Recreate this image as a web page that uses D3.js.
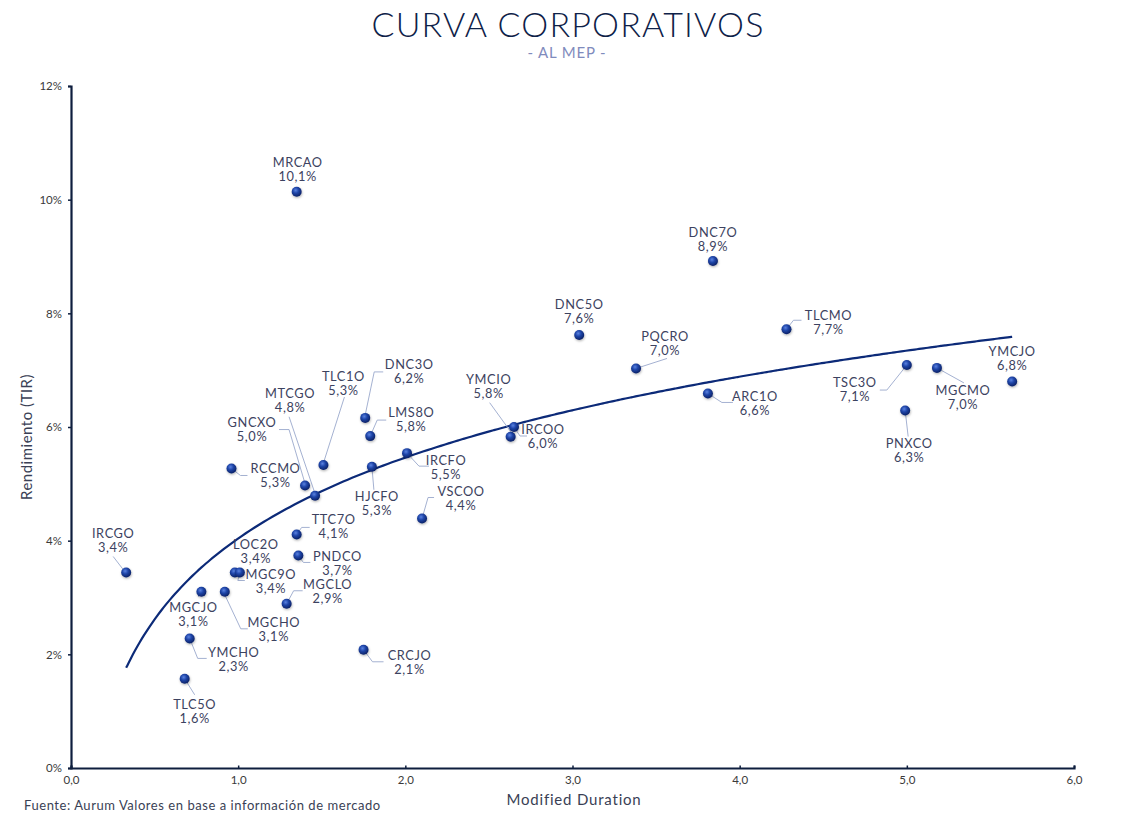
<!DOCTYPE html>
<html>
<head>
<meta charset="utf-8">
<script src="https://cdn.jsdelivr.net/npm/d3@7/dist/d3.min.js"></script>
<style>
  html, body { margin: 0; padding: 0; background: #ffffff; }
  svg { display: block; font-family: "Lato", "Noto Sans", sans-serif; }
</style>
</head>
<body>
<svg id="chart" width="1136" height="824"></svg>
<script>
// ---------- DATA ----------
const bonds = ["MRCAO","DNC7O","DNC5O","PQCRO","ARC1O","YMCIO","IRCOO","TLCMO","TSC3O","MGCMO","YMCJO","PNXCO",
  "IRCGO","LOC2O","MGC9O","MGCJO","MGCHO","TTC7O","PNDCO","MGCLO","YMCHO","TLC5O",
  "CRCJO","VSCOO","DNC3O","LMS8O","IRCFO","HJCFO","TLC1O","RCCMO","GNCXO","MTCGO"];
const duration = [1.35,3.84,3.04,3.38,3.81,2.63,2.65,4.28,5.00,5.18,5.63,4.99,
  0.33,0.98,1.01,0.78,0.92,1.35,1.36,1.29,0.71,0.68,
  1.75,2.10,1.76,1.79,2.01,1.80,1.51,0.96,1.40,1.46];
const yieldTIR = [10.14,8.92,7.62,7.03,6.59,5.83,6.00,7.72,7.09,7.04,6.80,6.29,
  3.44,3.44,3.44,3.10,3.10,4.11,3.74,2.89,2.28,1.57,
  2.08,4.39,6.16,5.84,5.54,5.30,5.33,5.27,4.97,4.79];
const xTicks = [0,1,2,3,4,5,6];
const yTicks = [0,2,4,6,8,10,12];

// ---------- LABEL LAYOUT (pixel offsets from each dot) ----------
const labelLayout = {
  MRCAO:{d:[1,-29]}, DNC7O:{d:[0,-29]}, DNC5O:{d:[0,-30]},
  PQCRO:{d:[29,-32], l:[[0,0],[31,-10]]},
  ARC1O:{d:[47,3], l:[[0,0],[14,9],[25,9]]},
  YMCIO:{d:[-22,-57], l:[[0,-5],[-21,-34]]},
  IRCOO:{d:[29,3], l:[[0,0],[6,9],[13,9]]},
  TLCMO:{d:[42,-14], l:[[0,0],[7,-9],[15,-9]]},
  TSC3O:{d:[-52,17], l:[[0,0],[-20,25],[-27,25]]},
  MGCMO:{d:[26,23], l:[[0,0],[27,15]]},
  YMCJO:{d:[0,-30]},
  PNXCO:{d:[4,33], l:[[0,0],[3,26]]},
  IRCGO:{d:[-13,-39], l:[[-3,-3],[-13,-16]]},
  LOC2O:{d:[21,-28]},
  MGC9O:{d:[31,2], l:[[0,0],[-2,8],[5,8]]},
  MGCJO:{d:[-8,16], l:[[0,0],[-3,5]]},
  MGCHO:{d:[49,31], l:[[0,3],[16,37],[23,37]]},
  TTC7O:{d:[37,-15], l:[[0,0],[5,-7],[13,-7]]},
  PNDCO:{d:[39,1], l:[[0,0],[5,7],[12,7]]},
  MGCLO:{d:[41,-19], l:[[0,0],[7,-13],[16,-13]]},
  YMCHO:{d:[44,14], l:[[0,0],[8,20],[17,20]]},
  TLC5O:{d:[10,26], l:[[0,0],[10,16]]},
  CRCJO:{d:[46,6], l:[[0,0],[9,12],[20,12]]},
  VSCOO:{d:[39,-27], l:[[0,0],[6,-21],[12,-21]]},
  DNC3O:{d:[44,-53], l:[[0,-3],[9,-46],[18,-46]]},
  LMS8O:{d:[41,-24], l:[[0,0],[7,-16],[16,-16]]},
  IRCFO:{d:[39,7], l:[[0,0],[12,13],[22,13]]},
  HJCFO:{d:[5,30], l:[[0,0],[2,23]]},
  TLC1O:{d:[20,-89], l:[[0,-2],[21,-68]]},
  RCCMO:{d:[44,0], l:[[0,0],[9,7],[16,7]]},
  GNCXO:{d:[-53,-63], l:[[0,-2],[-16,-56],[-26,-56]]},
  MTCGO:{d:[-25,-102], l:[[0,-2],[-26,-79]]}
};

// ---------- CHART ----------
const svg = d3.select("#chart");
const pLeft = 71, pRight = 1074, pTop = 86, pBottom = 768;
const x = d3.scaleLinear().domain([0, 6]).range([pLeft, pRight]);
const y = d3.scaleLinear().domain([0, 12]).range([pBottom, pTop]);

const points = bonds.map((b, i) => ({ name: b, x: duration[i], y: yieldTIR[i] }));

// gradient for dots
const defs = svg.append("defs");
const grad = defs.append("radialGradient").attr("id", "dotGrad")
  .attr("cx", "40%").attr("cy", "35%").attr("r", "65%");
grad.append("stop").attr("offset", "0%").attr("stop-color", "#5a82e0");
grad.append("stop").attr("offset", "45%").attr("stop-color", "#1f45a8");
grad.append("stop").attr("offset", "100%").attr("stop-color", "#0b2166");
const shadow = defs.append("filter").attr("id", "shadow").attr("x", "-50%").attr("y", "-50%").attr("width", "200%").attr("height", "200%");
shadow.append("feDropShadow").attr("dx", 0.5).attr("dy", 1.2).attr("stdDeviation", 0.9)
  .attr("flood-color", "#000").attr("flood-opacity", 0.3);

// Title
svg.append("text").attr("x", 568).attr("y", 37).attr("text-anchor", "middle")
  .attr("font-size", 34).attr("fill", "#0e2148").attr("letter-spacing", 1.2)
  .attr("font-weight", 300).text("CURVA CORPORATIVOS");
svg.append("text").attr("x", 567).attr("y", 58).attr("text-anchor", "middle")
  .attr("font-size", 15).attr("fill", "#7f8bbd").attr("letter-spacing", 0.8)
  .text("- AL MEP -");

// Axes
const yAxis = d3.axisLeft(y).tickValues(yTicks).tickSize(3).tickFormat(d => d + "%");
const gy = svg.append("g").attr("transform", `translate(${pLeft},0)`).call(yAxis);
gy.select(".domain").attr("stroke", "#0e1e3e").attr("stroke-width", 2.2);
gy.selectAll(".tick line").attr("stroke", "#0e1e3e").attr("stroke-width", 1.5);
gy.selectAll(".tick text").attr("font-size", 11.5).attr("fill", "#3a3a3a")
  .attr("font-family", "Lato, sans-serif").attr("x", -9);

const xAxis = d3.axisBottom(x).tickValues(xTicks).tickSize(-2.5)
  .tickFormat(d => d3.format(".1f")(d).replace(".", ","));
const gx = svg.append("g").attr("transform", `translate(0,${pBottom})`).call(xAxis);
gx.select(".domain").attr("stroke", "#0e1e3e").attr("stroke-width", 2.2);
gx.selectAll(".tick line").attr("stroke", "#0e1e3e").attr("stroke-width", 1.5);
gx.selectAll(".tick text").attr("font-size", 11.5).attr("fill", "#3a3a3a")
  .attr("font-family", "Lato, sans-serif").attr("y", 8);

// Axis titles
svg.append("text").attr("transform", `translate(32,${(pTop + pBottom) / 2 + 10}) rotate(-90)`)
  .attr("text-anchor", "middle").attr("font-size", 15).attr("fill", "#3a3f55")
  .attr("letter-spacing", 0.5).text("Rendimiento (TIR)");
svg.append("text").attr("x", 574).attr("y", 805).attr("text-anchor", "middle")
  .attr("font-size", 15).attr("fill", "#3a3f55").attr("letter-spacing", 0.8).text("Modified Duration");
svg.append("text").attr("x", 24).attr("y", 810)
  .attr("font-size", 13).attr("fill", "#3a3f55").attr("letter-spacing", 0.55)
  .text("Fuente: Aurum Valores en base a información de mercado");

// Logarithmic trend line (least squares on ln(duration))
const lx = duration.map(Math.log);
const mx = d3.mean(lx), my = d3.mean(yieldTIR);
const sxy = d3.sum(lx.map((v, i) => (v - mx) * (yieldTIR[i] - my)));
const sxx = d3.sum(lx.map(v => (v - mx) * (v - mx)));
const b = sxy / sxx, a = my - b * mx;
const [xmin, xmax] = d3.extent(duration);
const trend = d3.range(0, 201).map(i => {
  const xv = xmin + (xmax - xmin) * i / 200;
  return [xv, a + b * Math.log(xv)];
});
svg.append("path").datum(trend)
  .attr("d", d3.line().x(d => x(d[0])).y(d => y(d[1])).curve(d3.curveBasis))
  .attr("fill", "none").attr("stroke", "#0c2a78").attr("stroke-width", 2.2);

// Leader lines
const lg = svg.append("g");
points.forEach(p => {
  const L = labelLayout[p.name];
  if (L && L.l) {
    const cx = x(p.x), cy = y(p.y);
    lg.append("polyline")
      .attr("points", L.l.map(q => [cx + q[0], cy + q[1]].join(",")).join(" "))
      .attr("fill", "none").attr("stroke", "#9aa8cc").attr("stroke-width", 0.9);
  }
});

// Dots
svg.append("g").selectAll("circle").data(points).join("circle")
  .attr("cx", d => x(d.x)).attr("cy", d => y(d.y)).attr("r", 5)
  .attr("fill", "url(#dotGrad)").attr("filter", "url(#shadow)");

// Labels
const fmt = v => d3.format(".1f")(v).replace(".", ",") + "%";
const lab = svg.append("g").attr("fill", "#3c4260").attr("font-size", 12.8)
  .attr("text-anchor", "middle").attr("letter-spacing", 0.6);
points.forEach(p => {
  const L = labelLayout[p.name];
  const cx = x(p.x) + L.d[0], cy = y(p.y) + L.d[1];
  lab.append("text").attr("x", cx).attr("y", cy).attr("dy", "0.35em").text(p.name);
  lab.append("text").attr("x", cx).attr("y", cy + 14).attr("dy", "0.35em").text(fmt(p.y));
});
</script>
</body>
</html>
